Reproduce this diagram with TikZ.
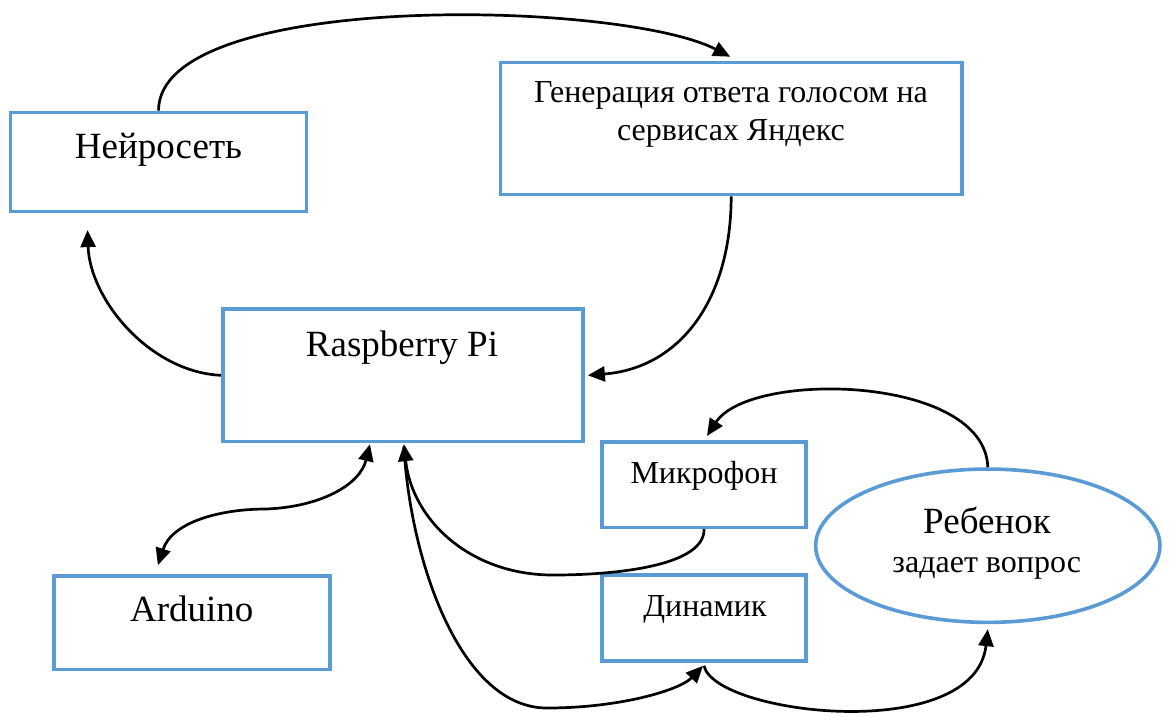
\documentclass[tikz,border=0pt]{standalone}
\usepackage{fontspec}
\setmainfont{Liberation Serif}
\usetikzlibrary{arrows.meta,shapes.geometric}
\definecolor{boxblue}{RGB}{91,155,213}
\tikzset{
  box/.style={draw=boxblue, line width=3.6pt, rectangle, inner sep=0pt},
  oval/.style={draw=boxblue, line width=3.6pt, ellipse, inner sep=0pt},
  big/.style={font=\fontsize{37}{40}\selectfont, anchor=base, inner sep=0pt},
  small/.style={font=\fontsize{32}{38}\selectfont, anchor=base, inner sep=0pt},
  tip/.tip={Triangle[length=17pt,width=15pt]},
  arr/.style={line width=2.7pt, -tip},
  darr/.style={line width=2.7pt, tip-tip}
}
\begin{document}
\begin{tikzpicture}[x=1pt,y=-1pt]
\useasboundingbox (0,0) rectangle (1174,716);
% boxes
\node[box, minimum width=296pt, minimum height=99pt] (nn) at (158.5,161.8) {};
\node[box, minimum width=461.5pt, minimum height=132pt] (gen) at (731.2,128.5) {};
\node[box, minimum width=360.3pt, minimum height=132.1pt] (rp) at (402.9,375.3) {};
\node[box, minimum width=276.3pt, minimum height=93.5pt] (ard) at (191.9,622.7) {};
\node[box, minimum width=204pt, minimum height=85.6pt] (mic) at (704,484.5) {};
\node[box, minimum width=204pt, minimum height=86pt] (din) at (704,618) {};
\node[oval, minimum width=344.3pt, minimum height=153.3pt] (reb) at (987.8,545.7) {};
% texts
\node[big] (tnn) at (158.5,158.3) {Нейросеть};
\node[small] (tgen1) at (731,102.7) {Генерация ответа голосом на};
\node[small] (tgen2) at (731,140.7) {сервисах Яндекс};
\node[big] (trp) at (402,356.7) {Raspberry Pi};
\node[big] (tard) at (191.7,621.7) {Arduino};
\node[small] (tmic) at (704,483.3) {Микрофон};
\node[small] (tdin) at (705,616.7) {Динамик};
\node[big] (treb) at (987,533.3) {Ребенок};
\node[small] (treb2) at (986.7,572.7) {задает вопрос};
% connectors
\draw[arr] (nn.north) .. controls (159,-10) and (620,0) .. ([shift={(-1,-4)}]gen.north);
\draw[arr] (gen.south) .. controls (731,300) and (680,368) .. ([shift={(3,0)}]rp.east);
\draw[arr] (rp.west) .. controls (150,372) and (90,300) .. ([shift={(-71,17)}]nn.south);
\draw[darr] ([shift={(-34,-9)}]ard.north) .. controls (172,522) and (220,509) .. (266,509) .. controls (320,507) and (360,485) .. ([shift={(-33,1)}]rp.south);
\draw[arr] (mic.south) .. controls (705,565) and (620,575) .. (553,575) .. controls (470,575) and (412,520) .. ([shift={(1,1)}]rp.south);
\draw[arr] ([shift={(1,3)}]rp.south) .. controls (410,560) and (460,708) .. (547,708) .. controls (620,708) and (680,690) .. ([shift={(-1,3)}]din.south);
\draw[arr] ([shift={(0,3)}]din.south) .. controls (715,715) and (975,745) .. ([shift={(0,5)}]reb.south);
\draw[arr] (reb.north) .. controls (985,375) and (750,370) .. ([shift={(3,-4)}]mic.north);
\end{tikzpicture}
\end{document}
